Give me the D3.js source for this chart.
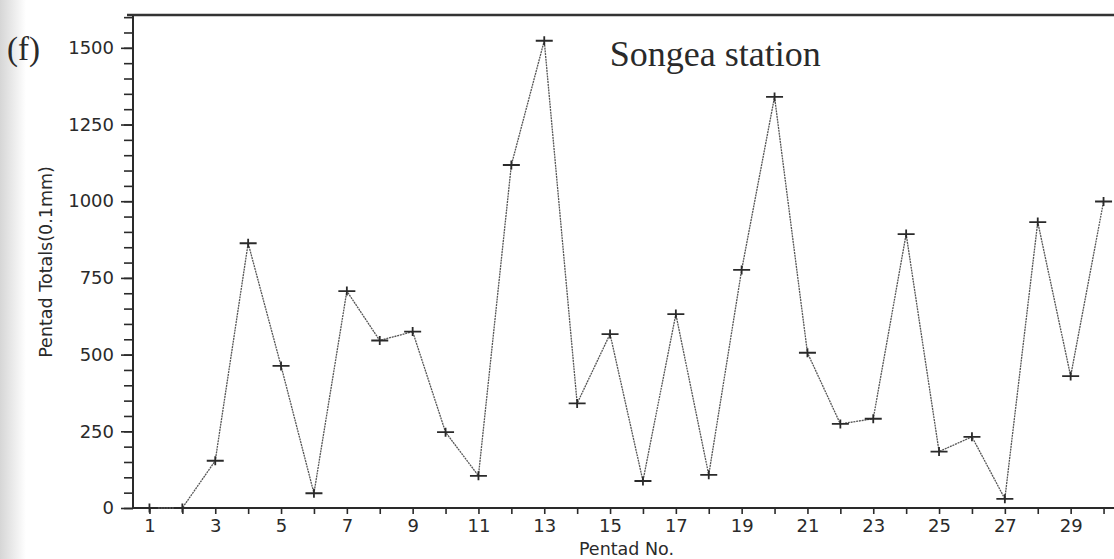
<!DOCTYPE html>
<html>
<head>
<meta charset="utf-8">
<script src="https://cdn.jsdelivr.net/npm/d3@7"></script>
<style>
  body { margin: 0; background: #fff; }
  svg text { font-family: "DejaVu Sans", sans-serif; fill: #2a2a2a; }
</style>
</head>
<body>
<div id="chart"></div>
<script>

let pentads = [1, 2, 3, 4, 5, 6, 7, 8, 9, 10, 11, 12, 13, 14, 15,
  16, 17, 18, 19, 20, 21, 22, 23, 24, 25, 26, 27, 28, 29, 30]
let totals = [0, 0, 154, 863, 463, 48, 707, 546, 575, 247, 105, 1118, 1523, 341, 567,
  88, 632, 108, 776, 1340, 506, 274, 291, 893, 184, 232, 30, 932, 430, 999]
let xTickLabels = [1, 3, 5, 7, 9, 11, 13, 15, 17, 19, 21, 23, 25, 27, 29]
let yTickLabels = [0, 250, 500, 750, 1000, 1250, 1500]
let stationName = "Songea station"
let panelLabel = "(f)"

let W = 1114, H = 559
let margin = { top: 15, right: -6, bottom: 51, left: 133 },
  width = W - margin.left - margin.right,
  height = H - margin.top - margin.bottom

let root = d3.select("#chart")
  .append("svg")
  .attr("width", W)
  .attr("height", H)

// scan shadow on the left edge
let grad = root.append("defs").append("linearGradient")
  .attr("id", "shade")
grad.append("stop").attr("offset", "0%").attr("stop-color", "#d6d6d6")
grad.append("stop").attr("offset", "100%").attr("stop-color", "#ffffff")
root.append("rect")
  .attr("width", 26).attr("height", H)
  .style("fill", "url(#shade)")

let svg = root.append("g")
  .attr("transform", "translate(" + margin.left + "," + margin.top + ")")

let x = d3.scaleLinear()
  .domain([0.5, 30.5])
  .range([0, width])

let y = d3.scaleLinear()
  .domain([0, 1607])
  .range([height, 0])

// y axis: minor ticks every 50, labels every 250
let yMinor = svg.append("g")
  .call(d3.axisLeft(y).tickValues(d3.range(0, 1601, 50)).tickSize(9).tickFormat(""))
yMinor.select(".domain").remove()

let yAxis = svg.append("g")
  .call(d3.axisLeft(y).tickValues(yTickLabels).tickSize(12).tickPadding(7)
    .tickFormat(d3.format("d")))
yAxis.select(".domain").remove()
yAxis.selectAll("text").style("font-size", "18px")

// x axis: tick on every pentad, label on odd ones
let xAxis = svg.append("g")
  .attr("transform", "translate(0," + height + ")")
  .call(d3.axisBottom(x).tickValues(pentads).tickSize(6).tickPadding(5)
    .tickFormat(d => xTickLabels.includes(d) ? d : ""))
xAxis.select(".domain").remove()
xAxis.selectAll("text").style("font-size", "18px")

svg.selectAll(".tick line")
  .attr("stroke", "#2a2a2a")
  .style("stroke-width", 1.6)

// frame lines
svg.append("line")
  .attr("x1", 0).attr("x2", 0)
  .attr("y1", y(1607)).attr("y2", y(0))
  .attr("stroke", "#2a2a2a").style("stroke-width", 2)
svg.append("line")
  .attr("x1", 0).attr("x2", width)
  .attr("y1", y(0)).attr("y2", y(0))
  .attr("stroke", "#2a2a2a").style("stroke-width", 2)
svg.append("line")
  .attr("x1", -6).attr("x2", width)
  .attr("y1", y(1607)).attr("y2", y(1607))
  .attr("stroke", "#333").style("stroke-width", 2.6)

let series = pentads.map((p, i) => ({ xPoint: p, yPoint: totals[i] }))

svg.append("path")
  .datum(series)
  .attr("d", d3.line()
    .x((d) => { return x(d.xPoint) })
    .y((d) => { return y(d.yPoint) }))
  .attr("stroke", "#555")
  .style("fill", "none")
  .style("stroke-width", 1.3)
  .style("stroke-dasharray", "2,0.8")

svg.selectAll(".mark")
  .data(series)
  .enter()
  .append("path")
  .attr("class", "mark")
  .attr("transform", d => "translate(" + x(d.xPoint) + "," + y(d.yPoint) + ")")
  .attr("d", "M-8.5,0H8.5M0,-4.5V4.5")
  .attr("stroke", "#2a2a2a")
  .style("stroke-width", 1.8)
  .style("fill", "none")

svg.append("text")
  .attr("x", x(18.2))
  .attr("y", 51)
  .attr("text-anchor", "middle")
  .style("font-family", "'Liberation Serif', serif")
  .style("font-size", "36px")
  .text(stationName)

root.append("text")
  .attr("x", 7)
  .attr("y", 60)
  .style("font-family", "'Liberation Serif', serif")
  .style("font-size", "33px")
  .text(panelLabel)

root.append("text")
  .attr("x", margin.left + width / 2)
  .attr("y", 555)
  .attr("text-anchor", "middle")
  .style("font-size", "17.5px")
  .text("Pentad No.")

root.append("text")
  .attr("transform", "translate(52,262) rotate(-90)")
  .attr("text-anchor", "middle")
  .style("font-size", "17.5px")
  .text("Pentad Totals(0.1mm)")

</script>
</body>
</html>
